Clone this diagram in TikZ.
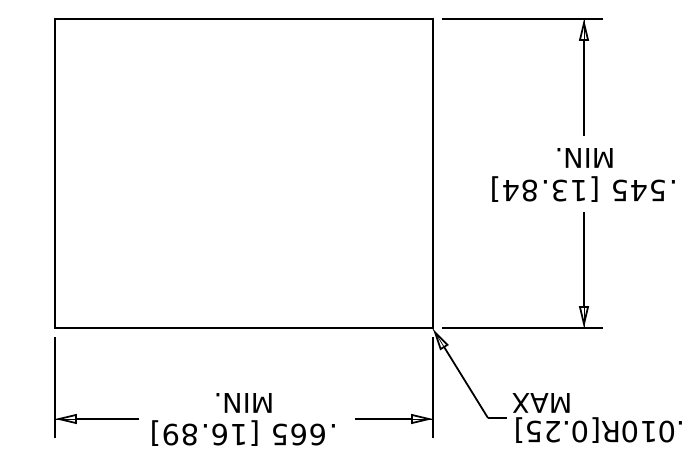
\documentclass[tikz,border=0pt]{standalone}
\usepackage{fontspec}
\setmainfont{DejaVu Sans}
\newfontfamily\widefont[LetterSpace=3]{DejaVu Sans}
\usetikzlibrary{arrows.meta}
\tikzset{
    dimline/.style={line width=1pt},
    dimtip/.style={dimline,-{Triangle[open,length=12.5pt,width=5.6pt,line width=1pt]},preaction={draw,arrows=-}},
    dimtext/.style={rotate=180,inner sep=0pt,font=\fontsize{15.5}{18}\selectfont},
    dimvalue/.style={dimtext,font=\fontsize{16.5}{18}\widefont},
    dimplain/.style={dimtext,font=\fontsize{16.5}{18}\selectfont}
}
\begin{document}
\begin{tikzpicture}[x=0.02cm,y=-0.02cm]
            \useasboundingbox (0,0) rectangle (700,451);
            \draw [dimline] (55,19) rectangle (433,328);
            \draw [dimline] (442,19) -- (603,19);
            \draw [dimline] (442,328) -- (603,328);
            \draw [dimline] (55,337) -- (55,438);
            \draw [dimline] (433,337) -- (433,438);
            \coordinate (hightop) at (584,19);
            \coordinate (highbot) at (584,328);
            \coordinate (wideleft) at (55,419);
            \coordinate (wideright) at (433,419);
            \coordinate (corner) at (433,329);
            \coordinate (bend) at (488,418);
            \draw [dimtip] (584,136) -- (hightop);
            \draw [dimtip] (584,212) -- (highbot);
            \draw [dimtip] (139,419) -- (wideleft);
            \draw [dimtip] (355,419) -- (wideright);
            \node [dimvalue] (highval) at (584,190) {.545 [13.84]};
            \node [dimtext] (highmin) at (585,158) {MIN.};
            \node [dimvalue] (wideval) at (244,434) {.665 [16.89]};
            \node [dimtext] (widemin) at (244,403) {MIN.};
            \node [dimplain] (radval) at (600,431) {.010R[0.25]};
            \node [dimtext] (radmax) at (542,403) {MAX};
            \coordinate (radend) at (507,418);
            \draw [dimtip] (bend) -- (corner);
            \draw [dimline] (bend) -- (radend);
        \end{tikzpicture}
\end{document}
